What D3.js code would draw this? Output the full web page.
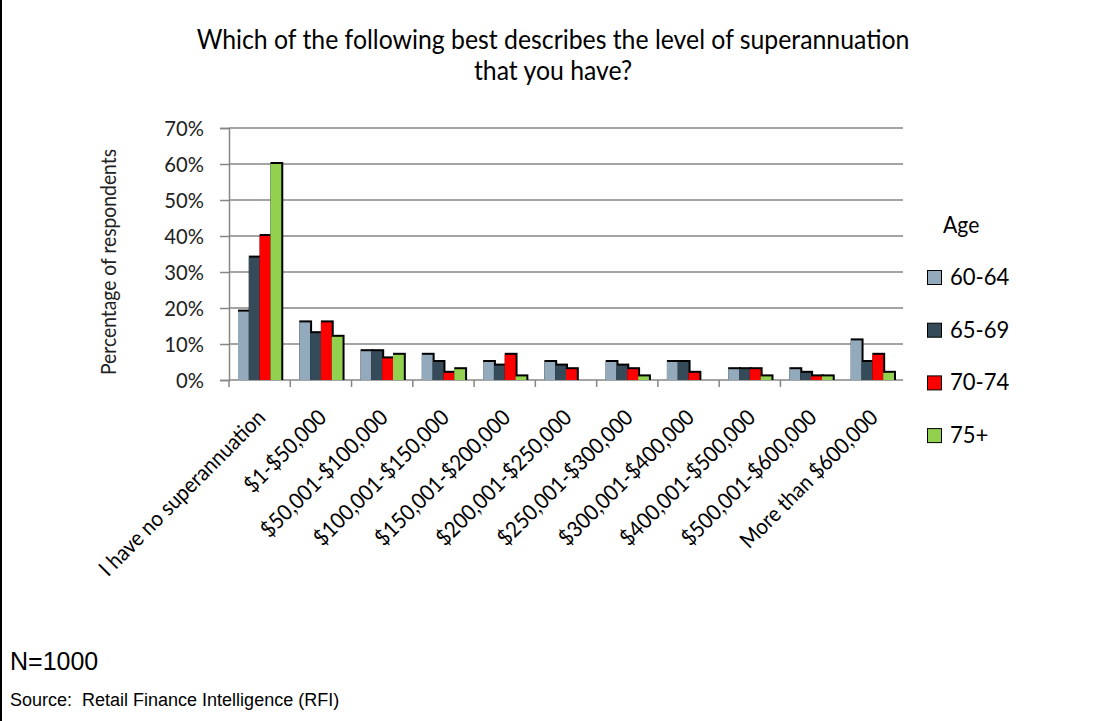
<!DOCTYPE html>
<html>
<head>
<meta charset="utf-8">
<script src="https://cdn.jsdelivr.net/npm/d3@7"></script>
<style>
  html, body { margin: 0; padding: 0; background: #fff; }
  svg { display: block; }
</style>
</head>
<body>
<svg id="chart" width="1106" height="721"></svg>
<script>
// Superannuation levels by age band (percentage of respondents)
const categories = [
  "I have no superannuation", "$1-$50,000", "$50,001-$100,000", "$100,001-$150,000",
  "$150,001-$200,000", "$200,001-$250,000", "$250,001-$300,000", "$300,001-$400,000",
  "$400,001-$500,000", "$500,001-$600,000", "More than $600,000"
];
const seriesNames = ["60-64", "65-69", "70-74", "75+"];
const age60to64 = [19, 16, 8, 7, 5, 5, 5, 5, 3, 3, 11];
const age65to69 = [34, 13, 8, 5, 4, 4, 4, 5, 3, 2, 5];
const age70to74 = [40, 16, 6, 2, 7, 3, 3, 2, 3, 1, 7];
const age75plus = [60, 12, 7, 3, 1, 0, 1, 0, 1, 1, 2];
const yTicks = [0, 10, 20, 30, 40, 50, 60, 70];

const seriesValues = [age60to64, age65to69, age70to74, age75plus];
const colors = ["#93A9BC", "#364B5A", "#FF0000", "#92D050"];

const svg = d3.select("#chart");
const labelFont = "Lato, 'Open Sans', sans-serif";

// Plot frame
const plotLeft = 229, plotRight = 903, plotTop = 128, plotBottom = 380;

const x0 = d3.scaleBand().domain(categories).range([plotLeft, plotRight]).padding(0);
const x1 = d3.scaleBand().domain(seriesNames).range([9, x0.bandwidth() - 9]).padding(0);
const y = d3.scaleLinear().domain([0, 70]).range([plotBottom, plotTop]);

// Left border of the frame
svg.append("line").attr("x1", 1).attr("x2", 1).attr("y1", 0).attr("y2", 721)
  .attr("stroke", "#000").attr("stroke-width", 2);

// Title
const title = svg.append("g").attr("font-family", labelFont).attr("font-size", 26).attr("fill", "#000");
const t1 = title.append("text").attr("text-anchor", "middle")
  .text("Which of the following best describes the level of superannuation");
const t2 = title.append("text").attr("text-anchor", "middle")
  .text("that you have?");
const w1 = t1.node().getComputedTextLength();
const sx = 713 / w1;
t1.attr("transform", `translate(553,49) scale(${sx},1)`);
t2.attr("transform", `translate(553,80) scale(${sx},1)`);

// Gridlines
svg.append("g").selectAll("line").data(yTicks).join("line")
  .attr("x1", plotLeft).attr("x2", plotRight)
  .attr("y1", d => y(d)).attr("y2", d => y(d))
  .attr("stroke", "#868686").attr("stroke-width", 1.5);

// Y axis
const yAxis = d3.axisLeft(y).tickValues(yTicks).tickSize(9).tickPadding(16)
  .tickFormat(d => d + "%");
const gy = svg.append("g").attr("transform", `translate(${plotLeft},0)`).call(yAxis);
gy.select(".domain").attr("stroke", "#868686").attr("stroke-width", 1.5);
gy.selectAll(".tick line").attr("stroke", "#868686").attr("stroke-width", 1.5);
gy.selectAll(".tick text").attr("font-family", labelFont).attr("font-size", 22)
  .attr("fill", "#222");
gy.selectAll(".tick text").each(function () {
  const t = d3.select(this);
  const xx = +t.attr("x");
  t.attr("transform", `translate(${xx},0) scale(0.92,1)`).attr("x", 0);
});

// X axis tick marks at category boundaries
const boundaries = categories.slice(0, 10).map(c => x0(c));
svg.append("g").selectAll("line").data(boundaries).join("line")
  .attr("x1", d => d).attr("x2", d => d)
  .attr("y1", plotBottom).attr("y2", plotBottom + 7)
  .attr("stroke", "#868686").attr("stroke-width", 1.5);

// Bars: a dark edge along the top and right, then the coloured fill
const groups = svg.append("g").selectAll("g").data(categories).join("g")
  .attr("transform", c => `translate(${x0(c)},0)`);
groups.each(function (c, ci) {
  const g = d3.select(this);
  const rows = seriesNames.map((s, si) => ({ s, si, v: seriesValues[si][ci] }))
    .filter(d => d.v > 0);
  g.selectAll("rect.edge").data(rows).join("rect").attr("class", "edge")
    .attr("x", d => x1(d.s))
    .attr("y", d => y(d.v) - 2)
    .attr("width", x1.bandwidth() + 2)
    .attr("height", d => plotBottom - y(d.v) + 2)
    .attr("fill", "#000");
  g.selectAll("rect.fill").data(rows).join("rect").attr("class", "fill")
    .attr("x", d => x1(d.s))
    .attr("y", d => y(d.v))
    .attr("width", x1.bandwidth())
    .attr("height", d => plotBottom - y(d.v))
    .attr("fill", d => colors[d.si]);
});

// Category labels, rotated
svg.append("g").selectAll("text").data(categories).join("text")
  .attr("transform", c => `translate(${x0(c) + x0.bandwidth() / 2 + 7},419) rotate(-45) scale(0.92,1)`)
  .attr("text-anchor", "end")
  .attr("font-family", labelFont).attr("font-size", 22).attr("fill", "#000")
  .text(c => c);

// Y axis title
svg.append("text")
  .attr("transform", "translate(116,262) rotate(-90) scale(0.92,1)")
  .attr("text-anchor", "middle")
  .attr("font-family", labelFont).attr("font-size", 21).attr("fill", "#222")
  .text("Percentage of respondents");

// Legend
const legend = svg.append("g").attr("font-family", labelFont).attr("fill", "#000");
legend.append("text").attr("font-size", 23)
  .attr("transform", "translate(943,233) scale(0.92,1)")
  .text("Age");
const items = legend.selectAll("g.item").data(seriesNames).join("g").attr("class", "item")
  .attr("transform", (d, i) => `translate(927,${270 + i * 52.7})`);
items.append("rect").attr("x", 0.5).attr("y", 0.5).attr("width", 14).attr("height", 14)
  .attr("fill", (d, i) => colors[i]).attr("stroke", "#000").attr("stroke-width", 1);
items.append("text").attr("font-size", 24)
  .attr("transform", "translate(23,15) scale(0.92,1)")
  .text(d => d);

// Footnotes
svg.append("text").attr("x", 10).attr("y", 670)
  .attr("font-family", "'Liberation Sans', Arial, sans-serif").attr("font-size", 25).attr("fill", "#000")
  .text("N=1000");
svg.append("text").attr("x", 10).attr("y", 706)
  .attr("font-family", "'Liberation Sans', Arial, sans-serif").attr("font-size", 18).attr("fill", "#000")
  .style("white-space", "pre")
  .text("Source:  Retail Finance Intelligence (RFI)");
</script>
</body>
</html>
